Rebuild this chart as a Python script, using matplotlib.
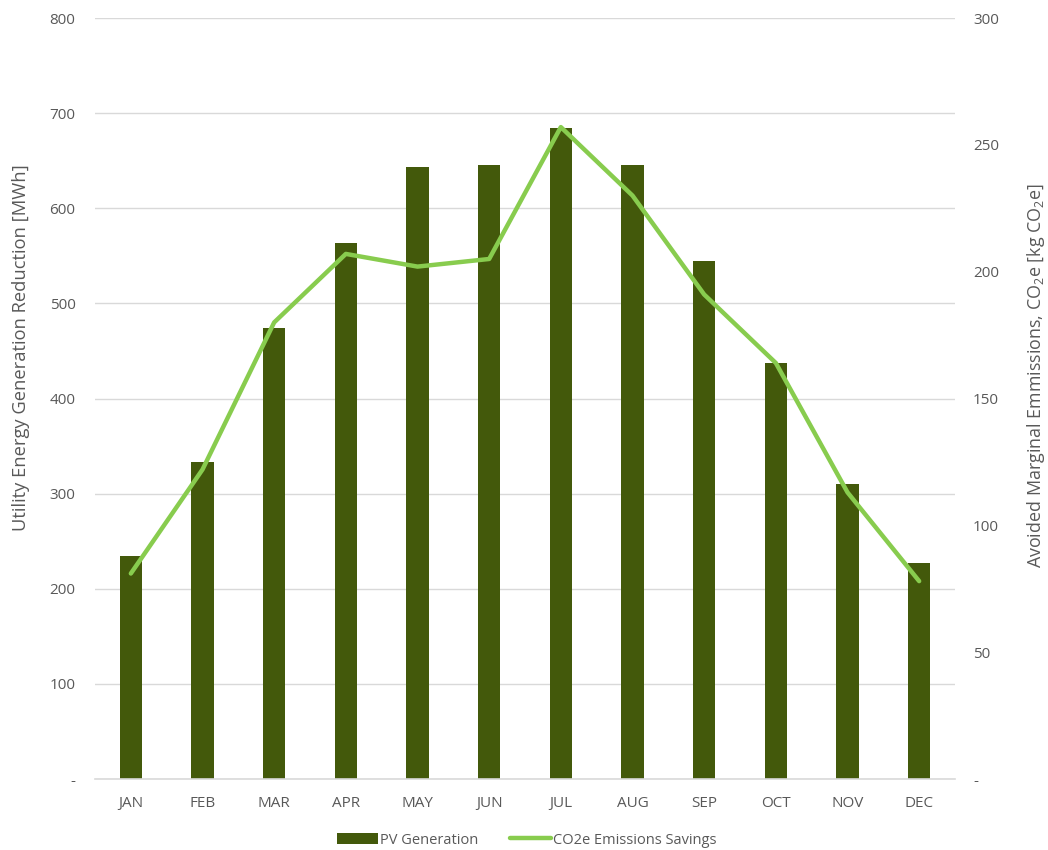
import matplotlib
matplotlib.use("Agg")
import matplotlib.pyplot as plt
from matplotlib.ticker import FixedLocator, FuncFormatter

months = ["JAN", "FEB", "MAR", "APR", "MAY", "JUN",
          "JUL", "AUG", "SEP", "OCT", "NOV", "DEC"]
pv_generation_mwh = [234, 333, 474, 563, 643, 645, 684, 645, 545, 437, 310, 227]
co2e_savings_kg = [81, 122, 180, 207, 202, 205, 257, 230, 191, 164, 113, 78]

left_ticks = [0, 100, 200, 300, 400, 500, 600, 700, 800]
right_ticks = [0, 50, 100, 150, 200, 250, 300]

BAR_COLOR = "#43590b"
LINE_COLOR = "#88cc4e"
TEXT_COLOR = "#595959"
GRID_COLOR = "#d9d9d9"

plt.rcParams["font.family"] = ["Open Sans", "DejaVu Sans"]
plt.rcParams["mathtext.fontset"] = "custom"
plt.rcParams["mathtext.rm"] = "Open Sans"
plt.rcParams["mathtext.it"] = "Open Sans:italic"
plt.rcParams["mathtext.default"] = "rm"

fig = plt.figure(figsize=(10.48, 8.5), dpi=100)
ax = fig.add_axes([95 / 1048, 1 - 779 / 850, 860 / 1048, 761 / 850])
ax2 = ax.twinx()

x = list(range(len(months)))
ax.bar(x, pv_generation_mwh, width=0.31, color=BAR_COLOR, zorder=2,
       label="PV Generation")
ax2.plot(x, co2e_savings_kg, color=LINE_COLOR, linewidth=3.2,
         solid_capstyle="round", solid_joinstyle="round", zorder=3,
         label="CO2e Emissions Savings")

ax.set_xlim(-0.5, len(months) - 0.5)
ax.set_ylim(0, 800)
ax2.set_ylim(0, 300)


def dash_zero(v, pos):
    return "-" if v == 0 else f"{int(v)}"


ax.yaxis.set_major_locator(FixedLocator(left_ticks))
ax.yaxis.set_major_formatter(FuncFormatter(dash_zero))
ax2.yaxis.set_major_locator(FixedLocator(right_ticks))
ax2.yaxis.set_major_formatter(FuncFormatter(dash_zero))

ax.set_xticks(x)
ax.set_xticklabels(months)

ax.grid(axis="y", color=GRID_COLOR, linewidth=1.0, zorder=0)
ax.set_axisbelow(True)

for a in (ax, ax2):
    for side in ("top", "left", "right", "bottom"):
        a.spines[side].set_visible(False)
    a.tick_params(axis="both", length=0, labelsize=11, labelcolor=TEXT_COLOR)
ax.spines["bottom"].set_visible(True)
ax.spines["bottom"].set_color(GRID_COLOR)
ax.spines["bottom"].set_linewidth(1.2)

ax.tick_params(axis="y", pad=14)
ax2.tick_params(axis="y", pad=13)
ax.tick_params(axis="x", pad=12)

fig.text(21 / 1048, 1 - 348 / 850, "Utility Energy Generation Reduction [MWh]",
         rotation=90, ha="center", va="center", fontsize=13.2, color=TEXT_COLOR)
fig.text(1036 / 1048, 1 - 376 / 850,
         "Avoided Marginal Emmissions, CO$_2$e [kg CO$_2$e]",
         rotation=90, ha="center", va="center", fontsize=12.9, color=TEXT_COLOR)

handles = [ax.containers[0], ax2.lines[0]]
labels = ["PV Generation", "CO2e Emissions Savings"]
fig.legend(handles, labels, loc="center", bbox_to_anchor=(527 / 1048, 1 - 840 / 850),
           ncol=2, frameon=False, fontsize=10.5, labelcolor=TEXT_COLOR,
           handlelength=2.8, handleheight=0.8, handletextpad=0.15,
           columnspacing=2.2)

fig.savefig("out.png", dpi=100, facecolor="white")
